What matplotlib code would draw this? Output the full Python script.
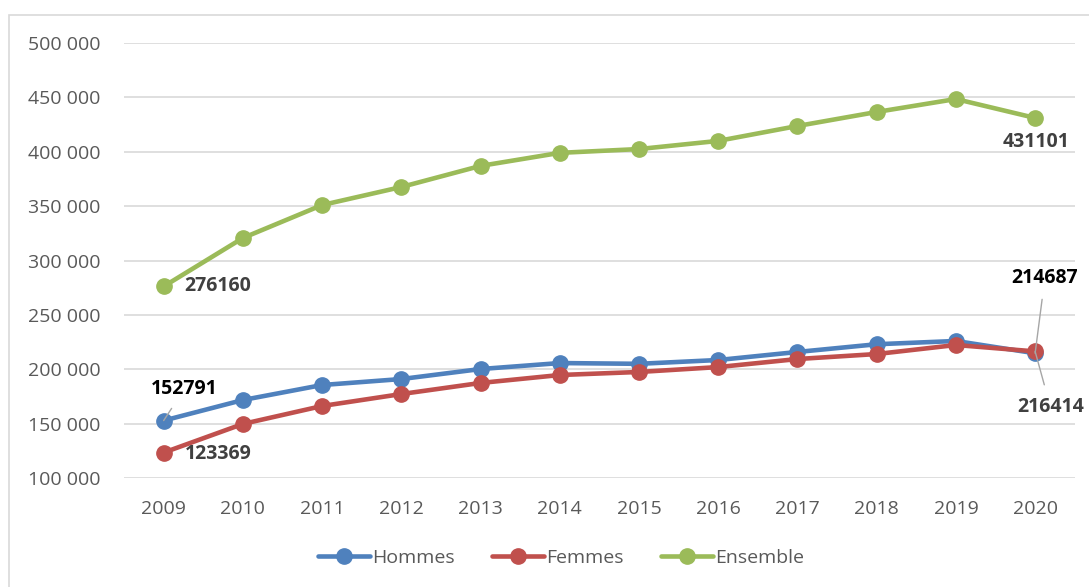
import matplotlib
matplotlib.use("Agg")
import matplotlib.pyplot as plt
from matplotlib.patches import Rectangle

# --- data ---
years = [2009, 2010, 2011, 2012, 2013, 2014, 2015, 2016, 2017, 2018, 2019, 2020]
hommes = [152791, 171700, 185500, 191000, 200200, 205700, 205000, 208500,
          215900, 223000, 226000, 214687]
femmes = [123369, 149700, 166200, 177200, 187400, 194700, 197500, 202000,
          209400, 214000, 222300, 216414]
ensemble = [276160, 320700, 351000, 367600, 387000, 399000, 402500, 410000,
            423700, 436600, 448500, 431101]
yticks = [100000, 150000, 200000, 250000, 300000, 350000, 400000, 450000, 500000]

BLUE = "#4F81BD"
RED = "#C0504D"
GREEN = "#9BBB59"
TICK_COLOR = "#595959"
LABEL_COLOR = "#404040"

plt.rcParams["font.family"] = ["Open Sans", "DejaVu Sans"]

fig = plt.figure(figsize=(10.89, 5.87), dpi=100)
ax = fig.add_axes([0.1139, 0.1857, 0.873, 0.741])

# chart frame
fig.patches.append(Rectangle((9 / 1089, -0.1), 1.2, 1 - 15 / 587 + 0.1,
                             transform=fig.transFigure, fill=False,
                             edgecolor="#D9D9D9", linewidth=1.2))

series = [("Hommes", hommes, BLUE), ("Femmes", femmes, RED), ("Ensemble", ensemble, GREEN)]
for name, vals, col in series:
    ax.plot(years, vals, color=col, linewidth=3.3, marker="o", markersize=11,
            solid_capstyle="round", label=name, zorder=3)

ax.set_xlim(2008.5, 2020.5)
ax.set_ylim(100000, 500000)
ax.set_yticks(yticks)
ax.set_yticklabels([f"{v:,}".replace(",", " ") for v in yticks])
ax.set_xticks(years)
ax.set_xticklabels([str(y) for y in years])
ax.tick_params(axis="both", length=0, colors=TICK_COLOR, labelsize=14)
ax.tick_params(axis="y", pad=17)
ax.tick_params(axis="x", pad=16)
ax.grid(axis="y", color="#D9D9D9", linewidth=1.2)
ax.set_axisbelow(True)
for s in ax.spines.values():
    s.set_visible(False)

# data labels
bold = dict(fontsize=14, fontweight="bold", zorder=5)
leader = dict(arrowstyle="-", color="#A6A6A6", lw=1, shrinkB=0)
ax.annotate(f"{ensemble[0]}", (years[0], ensemble[0]), xytext=(15, 0),
            textcoords="offset points", va="center", ha="left", color=LABEL_COLOR, **bold)
ax.annotate(f"{ensemble[-1]}", (years[-1], ensemble[-1]), xytext=(1, -17),
            textcoords="offset points", va="center", ha="center", color=LABEL_COLOR, **bold)
ax.annotate(f"{femmes[0]}", (years[0], femmes[0]), xytext=(15, -1),
            textcoords="offset points", va="center", ha="left", color=LABEL_COLOR, **bold)
ax.annotate(f"{hommes[0]}", (years[0], hommes[0]), xytext=(15, 23),
            textcoords="offset points", va="center", ha="center", color="black",
            arrowprops=dict(shrinkA=6, **leader), **bold)
ax.annotate(f"{hommes[-1]}", (years[-1], hommes[-1]), xytext=(7, 54),
            textcoords="offset points", va="center", ha="center", color="black",
            arrowprops=dict(shrinkA=6, **leader), **bold)
ax.annotate(f"{femmes[-1]}", (years[-1], femmes[-1]), xytext=(11, -40),
            textcoords="offset points", va="center", ha="center", color=LABEL_COLOR,
            arrowprops=dict(shrinkA=7, **leader), **bold)

fig.legend(loc="center", bbox_to_anchor=(0.515, 1 - 558 / 587), ncol=3, frameon=False,
           fontsize=14, labelcolor=TICK_COLOR, handlelength=2.7, handletextpad=0.1,
           columnspacing=1.9, borderaxespad=0)

fig.savefig("out.png", dpi=100)
